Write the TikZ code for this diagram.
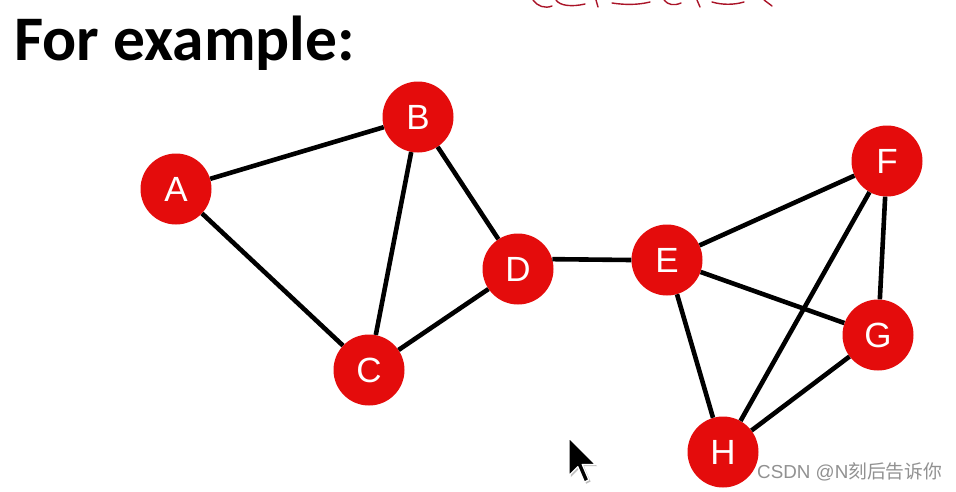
\documentclass[tikz,border=0pt]{standalone}
\usepackage{fontspec}
\newfontfamily\nodefont{Liberation Sans}
\newfontfamily\titlefont{Carlito}
\newfontfamily\cjkfont{Noto Sans CJK SC}
\newfontfamily\wmfont{Liberation Sans}
\definecolor{nodered}{RGB}{228,12,12}
\definecolor{inkred}{RGB}{170,20,40}
\definecolor{wmgray}{RGB}{145,145,145}
\tikzset{
  vtx/.style={circle, fill=nodered, draw=none, minimum size=71pt, inner sep=0pt,
    text=white, font=\nodefont\fontsize{35}{35}\selectfont},
  edge/.style={line width=4.6pt, black},
}
\begin{document}
\begin{tikzpicture}[x=1pt,y=-1pt]
\useasboundingbox (0,0) rectangle (956,491);
\fill[white] (0,0) rectangle (956,491);
% title
\node[anchor=base west, inner sep=0pt, font=\titlefont\bfseries\fontsize{63.5}{63.5}\selectfont] (title) at (14,60) {For example:};
% partial handwriting at top (cut off)
\begin{scope}[inkred, line width=1.4pt, line cap=round, line join=round]
\draw (533,0) .. controls (537,6) and (545,9) .. (552,6);
\draw (556,0) .. controls (560,6) and (572,7) .. (585,4);
\draw (596,0) -- (598,7);
\draw (612,3) .. controls (625,5) and (638,5) .. (650,2);
\draw (664,0) .. controls (668,5) and (674,6) .. (681,3);
\draw (697,0) -- (700,7);
\draw (712,2) .. controls (722,5) and (734,5) .. (744,2);
\draw (764,0) -- (772,6);
\end{scope}
% nodes
\node[vtx] (A) at (176,189) {A};
\node[vtx] (B) at (418,117) {B};
\node[vtx] (C) at (369,370) {C};
\node[vtx] (D) at (518,269) {D};
\node[vtx] (E) at (667,260) {E};
\node[vtx] (F) at (887,161) {F};
\node[vtx] (G) at (878,335) {G};
\node[vtx] (H) at (723,452) {H};
% edges
\draw[edge] (A) -- (B);
\draw[edge] (A) -- (C);
\draw[edge] (B) -- (C);
\draw[edge] (B) -- (D);
\draw[edge] (C) -- (D);
\draw[edge] (D.16) -- (E.west);
\draw[edge] (E) -- (F);
\draw[edge] (E) -- (G);
\draw[edge] (E) -- (H);
\draw[edge] (F) -- (G);
\draw[edge] (F) -- (H);
\draw[edge] (G) -- (H);
% mouse cursor
\begin{scope}[shift={(569,438)}, x=2.2pt, y=-2.2pt]
  \fill[black!25, shift={(0.8,0.8)}] (0,0) -- (0,17) -- (4,13) -- (7,20) -- (9,19) -- (6,12) -- (12,12) -- cycle;
  \filldraw[fill=black, draw=white, line width=1.2pt, line join=round] (0,0) -- (0,17) -- (4,13) -- (7,20) -- (9,19) -- (6,12) -- (12,12) -- cycle;
\end{scope}
% watermark
\node[anchor=base west, inner sep=0pt, text=wmgray, font=\wmfont\fontsize{18.8}{18.8}\selectfont] (wm) at (757,478) {CSDN @N{\cjkfont 刻后告诉你}};
\end{tikzpicture}
\end{document}
